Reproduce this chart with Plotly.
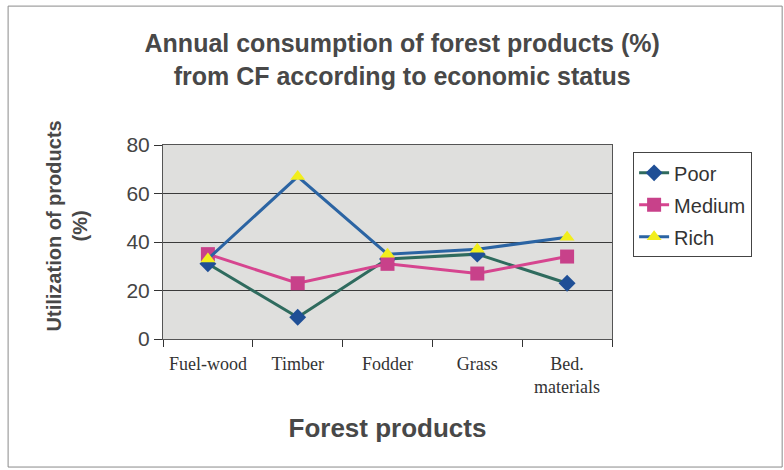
import plotly.graph_objects as go

# Forest product categories and consumption share (%) by economic status
products = ["Fuel-wood", "Timber", "Fodder", "Grass", "Bed.<br>materials"]
poor = [31, 9, 33, 35, 23]
medium = [35, 23, 31, 27, 34]
rich = [33, 67, 35, 37, 42]
y_ticks = [0, 20, 40, 60, 80]

fig = go.Figure()

fig.add_trace(go.Scatter(
    x=products, y=poor, name="Poor", mode="lines+markers", legendgroup="p",
    line=dict(color="#2f6b5e", width=3),
    marker=dict(symbol="diamond", size=13, color="#1f4f96"),
))
fig.add_trace(go.Scatter(
    x=products, y=medium, name="Medium", mode="lines+markers", legendgroup="m",
    line=dict(color="#d6458f", width=3),
    marker=dict(symbol="square", size=14, color="#c8418a"),
))
fig.add_trace(go.Scatter(
    x=products, y=rich, name="Rich", mode="lines+markers", legendgroup="r",
    line=dict(color="#2b64a3", width=3),
    marker=dict(symbol="triangle-up", size=13, color="#f2ee1c"),
))

fig.update_layout(
    width=784, height=470,
    margin=dict(l=163, r=172, t=145, b=131),
    paper_bgcolor="white",
    plot_bgcolor="#dfdfdd",
    font=dict(family="Liberation Sans, Arial, sans-serif", color="#3a3a3a"),
    title=dict(
        text="Annual consumption of forest products (%)<br>from CF according to economic status",
        x=0.513, xanchor="center", y=0.889, yanchor="top",
        font=dict(size=25, color="#484848", family="Liberation Sans, Arial, sans-serif", weight="bold"),
    ),
    showlegend=True,
    legend=dict(
        x=1.047, xanchor="left", y=0.962, yanchor="top",
        bgcolor="white", bordercolor="#444444", borderwidth=1,
        font=dict(size=20, color="#333333"),
        tracegroupgap=3,
    ),
    # outer chart frame
    shapes=[dict(type="rect", xref="paper", yref="paper",
                 x0=-0.345, x1=1.379, y0=-0.66, y1=1.716,
                 line=dict(color="#8a8a8a", width=1), layer="below")],
    annotations=[dict(
        text="Utilization of products<br>(%)", textangle=-90,
        xref="paper", yref="paper", x=-0.214, y=0.585,
        xanchor="center", yanchor="middle", showarrow=False,
        font=dict(size=20, color="#484848", weight="bold"),
    )],
)

fig.update_xaxes(
    type="category", range=[-0.5, 4.5],
    tickfont=dict(family="Liberation Serif, Times New Roman, serif", size=18, color="#333333"),
    ticks="outside", ticklen=7, tickcolor="#333333", tickson="boundaries",
    ticklabelstandoff=8,
    showline=True, linecolor="#555555", linewidth=1, mirror=True,
    showgrid=False,
    title=dict(text="Forest products", standoff=22,
               font=dict(size=26, color="#484848", weight="bold")),
)
fig.update_yaxes(
    range=[0, 80], tickvals=y_ticks,
    tickfont=dict(size=21, color="#444444"),
    ticks="outside", ticklen=8, tickcolor="#333333",
    showline=True, linecolor="#555555", linewidth=1, mirror=True,
    showgrid=True, gridcolor="#3a3a3a", gridwidth=1,
    zeroline=False,
)

fig.write_html("out.html")
